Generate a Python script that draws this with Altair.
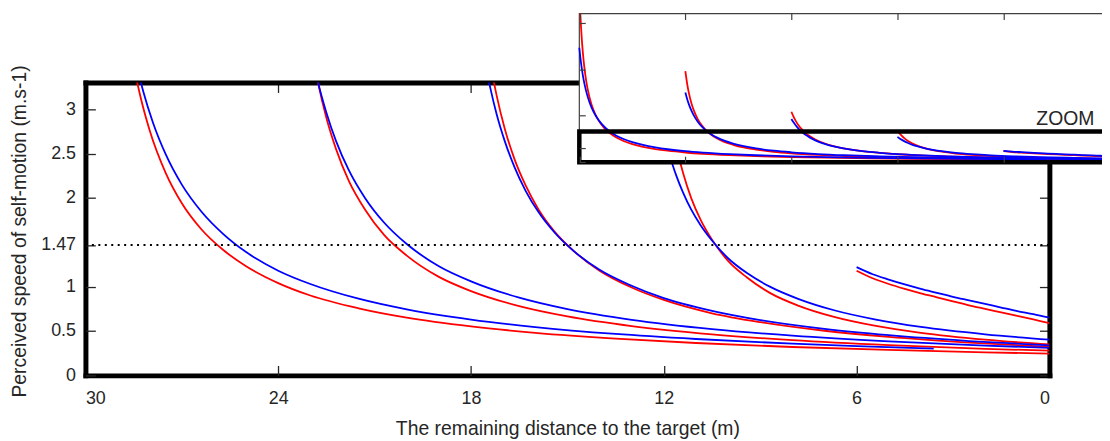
import altair as alt
import pandas as pd

# ---------------- data ----------------
# remaining distance (m) and perceived speed (m/s), one pair of arrays per curve
R30_D = [29.943, 29.9, 29.85, 29.8, 29.7, 29.6, 29.45, 29.3, 29.1, 28.85, 28.6, 28.3, 28.0, 27.5, 27.0,
         26.4, 25.7, 25.0, 24.0, 23.0, 21.5, 20.0, 18.0, 16.0, 13.5, 11.0, 8.0, 5.0, 2.0, 0.0]
R30_V = [16.0, 14.44, 12.98, 11.79, 9.96, 8.62, 7.18, 6.15, 5.17, 4.31, 3.69, 3.16, 2.76, 2.28, 1.94,
         1.65, 1.41, 1.23, 1.04, 0.90, 0.756, 0.651, 0.552, 0.48, 0.414, 0.365, 0.320, 0.287, 0.260, 0.245]
B30_D = [30, 29.9, 29.8, 29.7, 29.55, 29.4, 29.2, 29.0, 28.75, 28.5, 28.2, 27.9, 27.5, 27.0,
         26.4, 25.7, 25.0, 24.0, 23.0, 21.5, 20.0, 18.0, 16.0, 13.5, 11.0, 8.0, 6.0, 3.6]
B30_V = [12.32, 10.63, 9.35, 8.35, 7.19, 6.32, 5.43, 4.77, 4.14, 3.65, 3.20, 2.85, 2.49, 2.15,
         1.85, 1.59, 1.39, 1.18, 1.03, 0.864, 0.744, 0.629, 0.545, 0.467, 0.410, 0.357, 0.330, 0.302]

R24_D = [24, 23.9, 23.8, 23.65, 23.5, 23.3, 23.05, 22.8, 22.5, 22.2, 21.8, 21.3, 20.7, 20.0,
         19.0, 18.0, 16.5, 15.0, 13.0, 10.5, 8.0, 5.0, 2.0, 0.0]
R24_V = [9.81, 8.46, 7.43, 6.29, 5.46, 4.64, 3.91, 3.37, 2.90, 2.55, 2.19, 1.87, 1.58, 1.35,
         1.11, 0.95, 0.78, 0.664, 0.555, 0.462, 0.397, 0.341, 0.30, 0.278]
B24_D = [24, 23.9, 23.8, 23.65, 23.5, 23.3, 23.05, 22.8, 22.5, 22.2, 21.8, 21.3, 20.7, 20.0,
         19.0, 18.0, 16.5, 15.0, 13.0, 10.5, 8.0, 5.0, 2.0, 0.0]
B24_V = [7.49, 6.80, 6.22, 5.51, 4.95, 4.36, 3.80, 3.36, 2.96, 2.64, 2.31, 2.00, 1.72, 1.48,
         1.23, 1.06, 0.876, 0.747, 0.626, 0.521, 0.447, 0.383, 0.336, 0.310]

R18_D = [18, 17.9, 17.75, 17.6, 17.4, 17.2, 16.95, 16.65, 16.3, 15.9, 15.4, 14.8, 14.0, 13.0,
         12.0, 10.5, 9.0, 7.0, 5.0, 2.5, 0.0]
R18_V = [5.43, 4.98, 4.42, 3.98, 3.52, 3.15, 2.78, 2.44, 2.14, 1.87, 1.62, 1.40, 1.18, 0.99,
         0.85, 0.70, 0.60, 0.503, 0.433, 0.369, 0.322]
B18_D = [18, 17.9, 17.75, 17.6, 17.4, 17.2, 16.95, 16.65, 16.3, 15.9, 15.4, 14.8, 14.0, 13.0,
         12.0, 10.5, 9.0, 7.0, 5.0, 2.5, 0.0]
B18_V = [4.65, 4.34, 3.94, 3.60, 3.24, 2.94, 2.64, 2.35, 2.08, 1.84, 1.61, 1.40, 1.19, 1.01,
         0.87, 0.727, 0.623, 0.524, 0.453, 0.387, 0.338]

R12_D = [12, 11.9, 11.75, 11.6, 11.4, 11.15, 10.85, 10.5, 10.0, 9.4, 8.7, 7.8, 6.7, 5.4, 4.0, 2.0, 0.0]
R12_V = [3.42, 3.15, 2.82, 2.56, 2.28, 2.00, 1.75, 1.53, 1.29, 1.10, 0.93, 0.784, 0.659, 0.557, 0.48,
         0.403, 0.349]
B12_D = [12, 11.9, 11.75, 11.6, 11.4, 11.15, 10.85, 10.5, 10.0, 9.4, 8.7, 7.8, 6.7, 5.4, 4.0, 2.0, 0.0]
B12_V = [2.72, 2.58, 2.40, 2.24, 2.06, 1.87, 1.69, 1.52, 1.32, 1.15, 1.00, 0.86, 0.734, 0.629, 0.546,
         0.463, 0.403]

R6_D = [6, 5.5, 5, 4.5, 4, 3.5, 3, 2.5, 2, 1.5, 1, 0.5, 0]
R6_V = [1.18, 1.095, 1.03, 0.975, 0.925, 0.88, 0.835, 0.79, 0.75, 0.71, 0.67, 0.63, 0.59]
B6_D = [6, 5.5, 5, 4.5, 4, 3.5, 3, 2.5, 2, 1.5, 1, 0.5, 0]
B6_V = [1.22, 1.14, 1.08, 1.025, 0.975, 0.93, 0.885, 0.845, 0.805, 0.765, 0.725, 0.69, 0.65]

X_TICKS = [30, 24, 18, 12, 6, 0]
Y_TICKS = [0, 0.5, 1, 1.47, 2, 2.5, 3]
INSET_Y_TICKS = [0, 1.47, 5, 10, 15]
THRESHOLD = 1.47
ZOOM_LABEL = "ZOOM"


def build(curves):
    rows = []
    for name, ds, vs in curves:
        for d, v in zip(ds, vs):
            rows.append({"curve": name, "d": d, "v": v})
    return pd.DataFrame(rows)


red_df = build([("r30", R30_D, R30_V), ("r24", R24_D, R24_V), ("r18", R18_D, R18_V),
                ("r12", R12_D, R12_V), ("r6", R6_D, R6_V)])
blue_df = build([("b30", B30_D, B30_V), ("b24", B24_D, B24_V), ("b18", B18_D, B18_V),
                 ("b12", B12_D, B12_V), ("b6", B6_D, B6_V)])

# ---------------- style ----------------
W, H = 971, 295
FONT = "Liberation Sans"
TXT = "#262626"
RED = "#ff0000"
BLUE = "#0000ff"

x_main = alt.Scale(domain=[30, 0], nice=False, zero=False)
y_main = alt.Scale(domain=[0, 3.3], nice=False, zero=False)

frame_style = dict(grid=False, domainColor="black", domainWidth=5, domainCap="square", zindex=0)
tick_style = dict(grid=False, ticks=True, tickSize=10, tickColor=TXT, tickWidth=1.3,
                  labels=False, title=None, zindex=0)

# labelled axes (frame bottom + left)
ax_bottom = alt.Axis(orient="bottom", values=X_TICKS, format="d", ticks=False,
                     labelFont=FONT, labelFontSize=18, labelColor=TXT, labelPadding=14,
                     labelFlush=True,
                     title="The remaining distance to the target (m)", titleFont=FONT,
                     titleFontSize=19.5, titleColor=TXT, titleFontWeight="normal",
                     titleBaseline="alphabetic", titleY=59.5, **frame_style)
ax_left = alt.Axis(orient="left", values=Y_TICKS, ticks=False,
                   labelExpr="format(datum.value, '.3~g')",
                   labelFont=FONT, labelFontSize=18, labelColor=TXT, labelPadding=10,
                   title="Perceived speed of self-motion (m.s-1)", titleFont=FONT,
                   titleFontSize=19.5, titleColor=TXT, titleFontWeight="normal",
                   titleAngle=-90, titleBaseline="alphabetic", titleAlign="center",
                   titleX=-60, titleY=149.5, **frame_style)
# inward ticks on the bottom and left edges (opposite orients moved across)
ax_ticks_bottom = alt.Axis(orient="top", offset=-H, values=X_TICKS, domain=False, **tick_style)
ax_ticks_left = alt.Axis(orient="right", offset=-W, values=Y_TICKS, domain=False, **tick_style)
# frame top + right edges with inward ticks
ax_ticks_top = alt.Axis(orient="bottom", offset=-H, values=X_TICKS, domain=True,
                        domainColor="black", domainWidth=5, domainCap="square", **tick_style)
ax_ticks_right = alt.Axis(orient="left", offset=-W, values=Y_TICKS, domain=True,
                          domainColor="black", domainWidth=5, domainCap="square", **tick_style)

red_main = alt.Chart(red_df).mark_line(color=RED, strokeWidth=1.8, clip=True,
                                       interpolate="monotone").encode(
    x=alt.X("d:Q", scale=x_main, axis=ax_bottom),
    y=alt.Y("v:Q", scale=y_main, axis=ax_left),
    detail="curve:N",
    order=alt.Order("d:Q", sort="descending"),
)
blue_main = alt.Chart(blue_df).mark_line(color=BLUE, strokeWidth=1.8, clip=True,
                                         interpolate="monotone").encode(
    x=alt.X("d:Q", scale=x_main, axis=ax_ticks_bottom),
    y=alt.Y("v:Q", scale=y_main, axis=ax_ticks_left),
    detail="curve:N",
    order=alt.Order("d:Q", sort="descending"),
)
rule_df = pd.DataFrame({"d": [30], "d2": [0], "v": [THRESHOLD]})
rule = alt.Chart(rule_df).mark_rule(color="black", strokeWidth=2, strokeDash=[2, 4.5]).encode(
    x=alt.X("d:Q", scale=x_main, axis=ax_ticks_top), x2="d2:Q",
    y=alt.Y("v:Q", scale=y_main, axis=ax_ticks_right))

main = alt.layer(red_main, blue_main, rule).resolve_axis(x="independent", y="independent")

# ---------------- inset ----------------
IN_X0, IN_X1 = 497.5, 1031.6
IN_Y0, IN_Y1 = 80.2, -69.5
x_in = alt.Scale(domain=[30, 0], range=[IN_X0, IN_X1], nice=False, zero=False)
y_in = alt.Scale(domain=[0, 16], range=[IN_Y0, IN_Y1], nice=False, zero=False)
in_tick = dict(grid=False, ticks=True, tickSize=6, tickColor="#404040", tickWidth=1.2,
               labels=False, domain=False, title=None, zindex=1)
ax_in_top = alt.Axis(orient="bottom", offset=IN_Y1 - H, values=X_TICKS, **in_tick)
ax_in_left = alt.Axis(orient="right", offset=IN_X0 - W, values=INSET_Y_TICKS, **in_tick)
ax_in_bottom = alt.Axis(orient="top", offset=-IN_Y0, values=X_TICKS, **in_tick)

frame_df = pd.DataFrame({"d": [30], "d2": [0], "v": [0], "v2": [16]})
box_df = pd.DataFrame({"d": [30], "d2": [0], "v": [0], "v2": [3.3]})
label_df = pd.DataFrame({"d": [2.5], "v": [4.0], "t": [ZOOM_LABEL]})

bg = alt.Chart(frame_df).mark_rect(fill="white", stroke="#404040", strokeWidth=1.2).encode(
    x=alt.X("d:Q", scale=x_in, axis=ax_in_top), x2="d2:Q",
    y=alt.Y("v:Q", scale=y_in, axis=ax_in_left), y2="v2:Q")
red_in = alt.Chart(red_df).mark_line(color=RED, strokeWidth=1.8,
                                     interpolate="monotone").encode(
    x=alt.X("d:Q", scale=x_in, axis=None),
    y=alt.Y("v:Q", scale=y_in, axis=None),
    detail="curve:N", order=alt.Order("d:Q", sort="descending"))
blue_in = alt.Chart(blue_df).mark_line(color=BLUE, strokeWidth=1.8,
                                       interpolate="monotone").encode(
    x=alt.X("d:Q", scale=x_in, axis=None),
    y=alt.Y("v:Q", scale=y_in, axis=None),
    detail="curve:N", order=alt.Order("d:Q", sort="descending"))
box = alt.Chart(box_df).mark_rect(fillOpacity=0, stroke="black", strokeWidth=4.5).encode(
    x=alt.X("d:Q", scale=x_in, axis=ax_in_bottom), x2="d2:Q",
    y=alt.Y("v:Q", scale=y_in, axis=None), y2="v2:Q")
label = alt.Chart(label_df).mark_text(font=FONT, fontSize=19.5, color=TXT, align="center",
                                      baseline="alphabetic").encode(
    x=alt.X("d:Q", scale=x_in, axis=None),
    y=alt.Y("v:Q", scale=y_in, axis=None),
    text="t:N")

inset = alt.layer(bg, red_in, blue_in, box, label).resolve_axis(x="independent", y="independent")

chart = alt.layer(main, inset).resolve_scale(x="independent", y="independent").resolve_axis(
    x="independent", y="independent").properties(
    width=W, height=H,
    padding={"left": 78, "top": 73.5, "right": 53, "bottom": 64.5},
    autosize=alt.AutoSizeParams(type="none"),
    background="white",
).configure_view(stroke=None)

chart.save("out.html", embed_options={"renderer": "svg", "actions": False})
